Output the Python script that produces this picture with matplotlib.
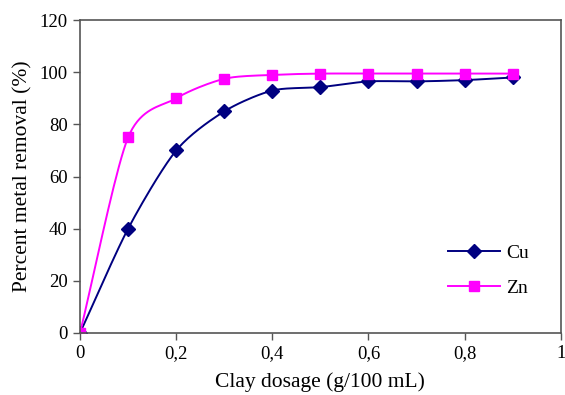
import numpy as np
import matplotlib.pyplot as plt
from matplotlib.ticker import FuncFormatter

plt.rcParams['font.family'] = ['Liberation Serif', 'DejaVu Serif']

dosage = [0, 0.1, 0.2, 0.3, 0.4, 0.5, 0.6, 0.7, 0.8, 0.9]
cu = [0, 40, 70, 85, 93, 94.3, 96.5, 96.5, 97, 98]
zn = [0, 75, 90, 97.5, 99, 99.5, 99.5, 99.5, 99.5, 99.5]


# smoothed line like a spreadsheet chart (cardinal spline through the points)
def smooth(x, y, n=20, k=0.8):
    x = np.asarray(x, float)
    y = np.asarray(y, float)
    px = np.concatenate([[2 * x[0] - x[1]], x, [2 * x[-1] - x[-2]]])
    py = np.concatenate([[2 * y[0] - y[1]], y, [2 * y[-1] - y[-2]]])
    xs, ys = [], []
    t = np.linspace(0, 1, n)
    for i in range(1, len(px) - 2):
        for p, out in ((px, xs), (py, ys)):
            p0, p1, p2, p3 = p[i - 1], p[i], p[i + 1], p[i + 2]
            c1 = p1 + k * (p2 - p0) / 6
            c2 = p2 - k * (p3 - p1) / 6
            out.extend((1 - t) ** 3 * p1 + 3 * (1 - t) ** 2 * t * c1
                       + 3 * (1 - t) * t ** 2 * c2 + t ** 3 * p2)
    return xs, ys


fig = plt.figure(figsize=(5.65, 3.95), dpi=100)
ax = fig.add_axes([0.1416, 0.157, 0.851, 0.792])

navy = '#000080'
pink = '#ff00ff'

sx, sy = smooth(dosage, cu)
ax.plot(sx, sy, color=navy, lw=1.4)
ax.plot(dosage, cu, ls='none', marker='D', ms=7, color=navy)
ax.plot([], [], color=navy, lw=1.4, marker='D', ms=7, label='Cu')

sx, sy = smooth(dosage, zn)
ax.plot(sx, sy, color=pink, lw=1.4)
ax.plot(dosage, zn, ls='none', marker='s', ms=7, color=pink)
ax.plot([], [], color=pink, lw=1.4, marker='s', ms=7, label='Zn')

ax.set_xlim(0, 1)
ax.set_ylim(0, 120)
ax.set_xticks([0, 0.2, 0.4, 0.6, 0.8, 1])
ax.set_yticks(range(0, 121, 20))
ax.xaxis.set_major_formatter(FuncFormatter(lambda v, p: ('%g' % v).replace('.', ',')))
ax.tick_params(labelsize=13.5, length=5, width=1, color='#555555', pad=4)
for s in ax.spines.values():
    s.set_color('#555555')
    s.set_linewidth(1.2)

ax.set_xlabel('Clay dosage (g/100 mL)', fontsize=15.5, labelpad=7)
ax.set_ylabel('Percent metal removal (%)', fontsize=15.5, labelpad=5)

ax.legend(loc='lower right', bbox_to_anchor=(0.97, 0.06), frameon=False,
          fontsize=14, handlelength=2.7, handletextpad=0.3, labelspacing=0.9)

fig.savefig('out.png', dpi=100)
